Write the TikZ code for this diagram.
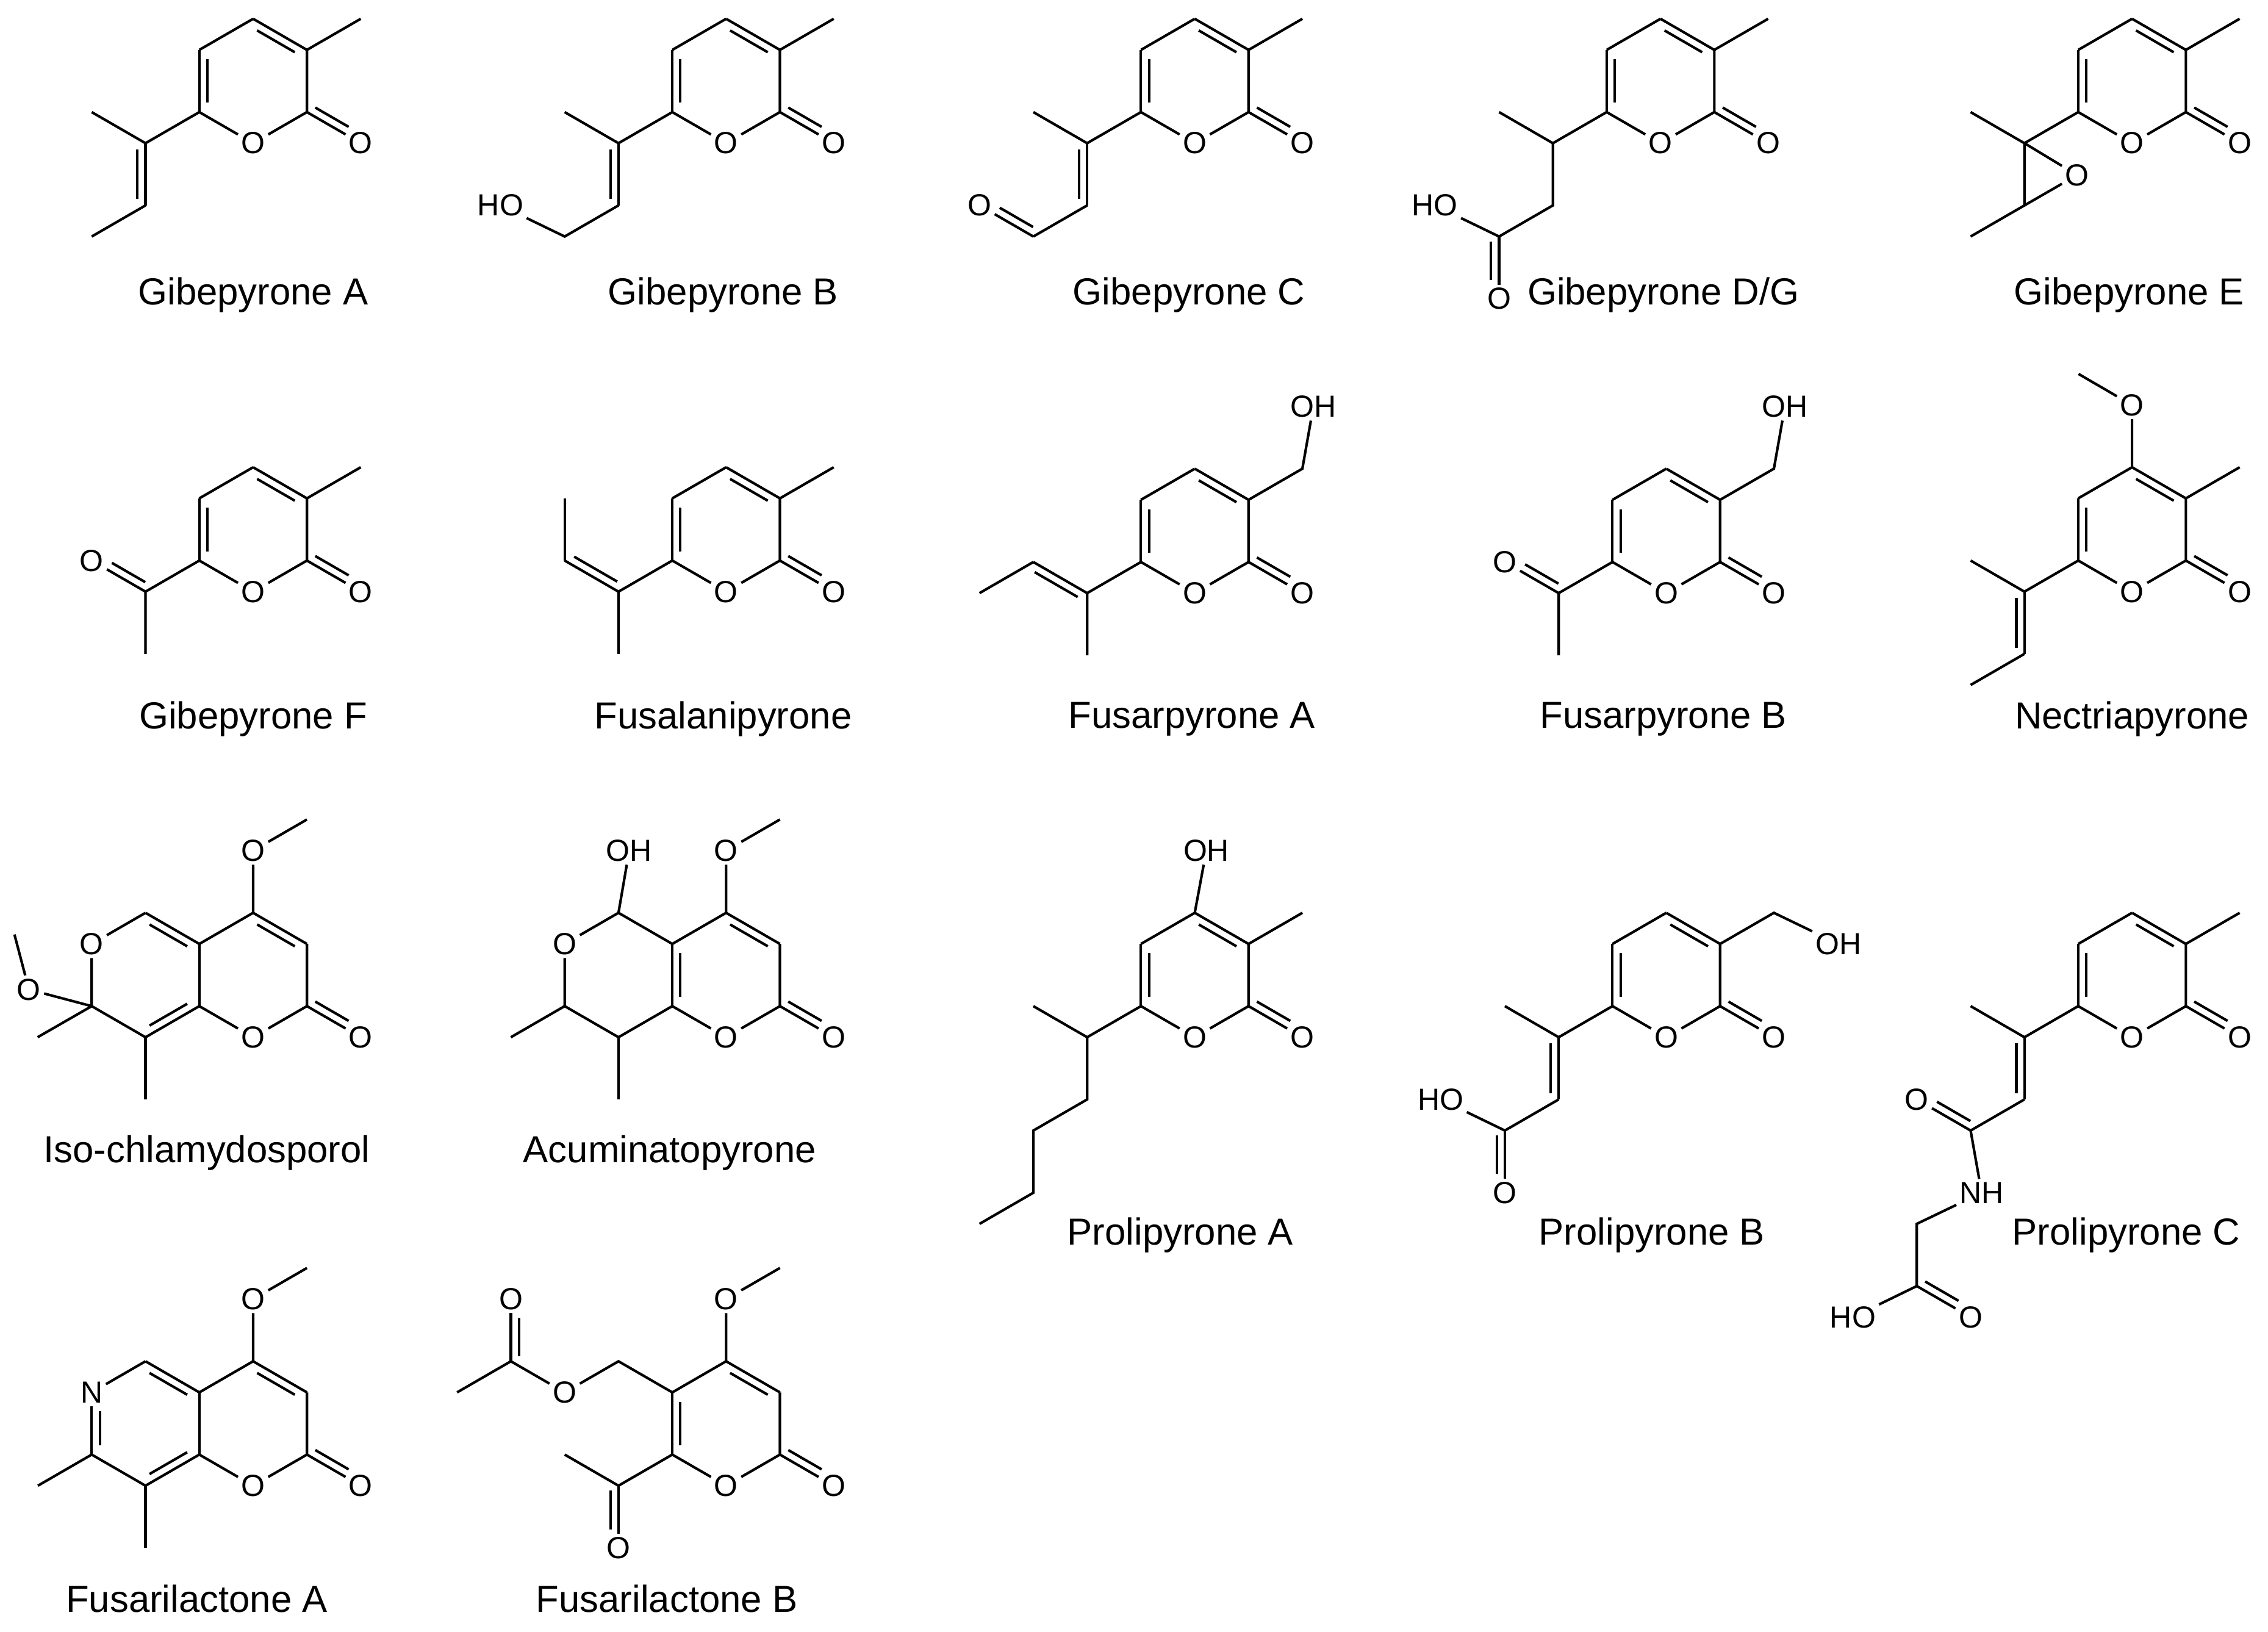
\documentclass[tikz,border=0pt]{standalone}
\usepackage{fontspec}
\setmainfont{Liberation Sans}
\usetikzlibrary{calc}
\def\dbo{0.14cm}
\newcommand\db[5]{\draw (#1)--(#2); \draw ($($(#1)!#4!(#2)$)!\dbo!#3:(#2)$) -- ($($(#2)!#5!(#1)$)!\dbo!#3:(#2)$);}
% pyrone ring: #1 prefix, #2 cx, #3 cy
\newcommand\ring[3]{%
\coordinate (#12) at (#2+37.2,#3+21.5);
\coordinate (#13) at (#2+37.2,#3-21.5);
\coordinate (#14) at (#2,#3-43);
\coordinate (#15) at (#2-37.2,#3-21.5);
\coordinate (#16) at (#2-37.2,#3+21.5);
\node[atom] (#11) at (#2,#3+43) {O};
\node[atom] (#1O) at (#2+74.4,#3+43) {O};
\draw (#16)--(#11)--(#12)--(#13); \db{#13}{#14}{90}{.15}{.15}; \draw (#14)--(#15);
\db{#12}{#1O}{90}{.08}{.3}}
\begin{document}
\begin{tikzpicture}[x=0.025cm,y=-0.025cm,line width=1.25pt,
  atom/.style={inner sep=1pt,font=\fontsize{15}{17}\selectfont},
  cname/.style={font=\fontsize{18.5}{21}\selectfont}]
\useasboundingbox (0,0) rectangle (1568,1128);
% ---- Gibepyrone A
\ring{A}{175}{56}
\db{A5}{A6}{90}{.15}{.15}
\coordinate (Aa) at (100.6,99); \coordinate (Ab) at (63.4,77.5);
\coordinate (Ac) at (100.6,142); \coordinate (Ad) at (63.4,163.5);
\draw (A6)--(Aa)--(Ab); \db{Aa}{Ac}{-90}{.1}{.1}; \draw (Ac)--(Ad);
\draw (A3)--(249.4,13) coordinate (Am);
\node[cname] (nA) at (175,204) {Gibepyrone A};
% ---- Gibepyrone B
\ring{B}{502}{56}
\db{B5}{B6}{90}{.15}{.15}
\coordinate (Ba) at (427.6,99); \coordinate (Bb) at (390.4,77.5);
\coordinate (Bc) at (427.6,142); \coordinate (Bd) at (390.4,163.5);
\node[atom] (Bo) at (346,142) {HO};
\draw (B6)--(Ba)--(Bb); \db{Ba}{Bc}{-90}{.1}{.1}; \draw (Bc)--(Bd)--(Bo);
\draw (B3)--(576.4,13) coordinate (Bm);
\node[cname] (nB) at (500,204) {Gibepyrone B};
% ---- Gibepyrone C
\ring{C}{826}{56}
\db{C5}{C6}{90}{.15}{.15}
\coordinate (Ca) at (751.6,99); \coordinate (Cb) at (714.4,77.5);
\coordinate (Cc) at (751.6,142); \coordinate (Cd) at (714.4,163.5);
\node[atom] (Co) at (677.2,142) {O};
\draw (C6)--(Ca)--(Cb); \db{Ca}{Cc}{-90}{.1}{.1}; \draw (Cc)--(Cd); \db{Cd}{Co}{-90}{.08}{.3}
\draw (C3)--(900.4,13) coordinate (Cm);
\node[cname] (nC) at (822,204) {Gibepyrone C};
% ---- Gibepyrone D/G
\ring{D}{1148}{56}
\db{D5}{D6}{90}{.15}{.15}
\coordinate (Da) at (1073.6,99); \coordinate (Db) at (1036.4,77.5);
\coordinate (Dc) at (1073.6,142); \coordinate (Dd) at (1036.4,163.5);
\node[atom] (Do) at (992,142) {HO};
\node[atom] (De) at (1036.4,206.5) {O};
\draw (D6)--(Da)--(Db); \draw (Da)--(Dc)--(Dd)--(Do); \db{Dd}{De}{-90}{.08}{.3}
\draw (D3)--(1222.4,13) coordinate (Dm);
\node[cname] (nD) at (1150,204) {Gibepyrone D/G};
% ---- Gibepyrone E
\ring{E}{1474}{56}
\db{E5}{E6}{90}{.15}{.15}
\coordinate (Ea) at (1399.6,99); \coordinate (Eb) at (1362.4,77.5);
\coordinate (Ec) at (1399.6,142); \coordinate (Ed) at (1362.4,163.5);
\node[atom] (Eo) at (1436,121) {O};
\draw (E6)--(Ea)--(Eb); \draw (Ea)--(Ec)--(Ed); \draw (Ea)--(Eo)--(Ec);
\draw (E3)--(1548.4,13) coordinate (Em);
\node[cname] (nE) at (1472,204) {Gibepyrone E};
% ---- Gibepyrone F
\ring{F}{175}{366}
\db{F5}{F6}{90}{.15}{.15}
\coordinate (Fa) at (100.6,409); \coordinate (Fb) at (100.6,452);
\node[atom] (Fo) at (63.4,387.5) {O};
\draw (F6)--(Fa)--(Fb); \db{Fa}{Fo}{-90}{.08}{.3}
\draw (F3)--(249.4,323) coordinate (Fm);
\node[cname] (nF) at (175,497) {Gibepyrone F};
% ---- Fusalanipyrone
\ring{G}{502}{366}
\db{G5}{G6}{90}{.15}{.15}
\coordinate (Ga) at (427.6,409); \coordinate (Gb) at (427.6,452);
\coordinate (Gc) at (390.4,387.5); \coordinate (Gd) at (390.4,344.5);
\draw (G6)--(Ga)--(Gb); \db{Ga}{Gc}{-90}{.1}{.1}; \draw (Gc)--(Gd);
\draw (G3)--(576.4,323) coordinate (Gm);
\node[cname] (nG) at (500,497) {Fusalanipyrone};
% ---- Fusarpyrone A
\ring{H}{826}{367}
\db{H5}{H6}{90}{.15}{.15}
\coordinate (Ha) at (751.6,410); \coordinate (Hb) at (751.6,453);
\coordinate (Hc) at (714.4,388.5); \coordinate (Hd) at (677.2,410);
\draw (H6)--(Ha)--(Hb); \db{Ha}{Hc}{90}{.1}{.1}; \draw (Hc)--(Hd);
\coordinate (Hx) at (900.4,324); \node[atom] (Ho) at (908,281) {OH};
\draw (H3)--(Hx)--(Ho);
\node[cname] (nH) at (824,497) {Fusarpyrone A};
% ---- Fusarpyrone B
\ring{I}{1152}{367}
\db{I5}{I6}{90}{.15}{.15}
\coordinate (Ia) at (1077.6,410); \coordinate (Ib) at (1077.6,453);
\node[atom] (Io) at (1040.4,388.5) {O};
\draw (I6)--(Ia)--(Ib); \db{Ia}{Io}{-90}{.08}{.3}
\coordinate (Ix) at (1226.4,324); \node[atom] (Ih) at (1234,281) {OH};
\draw (I3)--(Ix)--(Ih);
\node[cname] (nI) at (1150,497) {Fusarpyrone B};
% ---- Nectriapyrone
\ring{J}{1474}{366}
\db{J5}{J6}{90}{.15}{.15}
\coordinate (Ja) at (1399.6,409); \coordinate (Jb) at (1362.4,387.5);
\coordinate (Jc) at (1399.6,452); \coordinate (Jd) at (1362.4,473.5);
\draw (J6)--(Ja)--(Jb); \db{Ja}{Jc}{-90}{.1}{.1}; \draw (Jc)--(Jd);
\node[atom] (Jo) at (1474,280) {O}; \coordinate (Jm2) at (1437,258.5);
\draw (J4)--(Jo)--(Jm2);
\draw (J3)--(1548.4,323) coordinate (Jm);
\node[cname] (nJ) at (1474,497) {Nectriapyrone};
% ---- Iso-chlamydosporol
\ring{K}{175}{674}
\draw (K5)--(K6);
\node[atom] (Ko) at (175,588) {O}; \coordinate (Km2) at (212.2,566.5);
\draw (K4)--(Ko)--(Km2);
\coordinate (K7) at (100.6,631); \node[atom] (K8) at (63.4,652.5) {O};
\coordinate (K9) at (63.4,695.5); \coordinate (K10) at (100.6,717);
\db{K5}{K7}{90}{.15}{.15}; \draw (K7)--(K8)--(K9)--(K10); \db{K10}{K6}{90}{.15}{.15}
\draw (K10)--(100.6,760) coordinate (Km3);
\node[atom] (Kq) at (20,684) {O}; \coordinate (Km4) at (10,646); \coordinate (Km5) at (26,717);
\draw (K9)--(Kq)--(Km4); \draw (K9)--(Km5);
\node[cname] (nK) at (143,797) {Iso-chlamydosporol};
% ---- Acuminatopyrone
\ring{L}{502}{674}
\db{L5}{L6}{90}{.15}{.15}
\node[atom] (Lo) at (502,588) {O}; \coordinate (Lm2) at (539.2,566.5);
\draw (L4)--(Lo)--(Lm2);
\coordinate (L7) at (427.6,631); \node[atom] (L8) at (390.4,652.5) {O};
\coordinate (L9) at (390.4,695.5); \coordinate (L10) at (427.6,717);
\draw (L5)--(L7)--(L8)--(L9)--(L10)--(L6);
\node[atom] (Lh) at (435,588) {OH}; \draw (L7)--(Lh);
\draw (L9)--(353.2,717) coordinate (Lm3); \draw (L10)--(427.6,760) coordinate (Lm4);
\node[cname] (nL) at (463,797) {Acuminatopyrone};
% ---- Prolipyrone A
\ring{M}{826}{674}
\db{M5}{M6}{90}{.15}{.15}
\node[atom] (Mh) at (834,588) {OH}; \draw (M4)--(Mh);
\draw (M3)--(900.4,631) coordinate (Mm);
\coordinate (Ma) at (751.6,717); \coordinate (Mb) at (714.4,695.5);
\coordinate (Mc) at (751.6,760); \coordinate (Md) at (714.4,781.5);
\coordinate (Me) at (714.4,824.5); \coordinate (Mf) at (677.2,846);
\draw (M6)--(Ma)--(Mb); \draw (Ma)--(Mc)--(Md)--(Me)--(Mf);
\node[cname] (nM) at (816,854) {Prolipyrone A};
% ---- Prolipyrone B
\ring{N}{1152}{674}
\db{N5}{N6}{90}{.15}{.15}
\coordinate (Nx) at (1226.4,631); \node[atom] (Nh) at (1271,652.5) {OH};
\draw (N3)--(Nx)--(Nh);
\coordinate (Na) at (1077.6,717); \coordinate (Nb) at (1040.4,695.5);
\coordinate (Nc) at (1077.6,760); \coordinate (Nd) at (1040.4,781.5);
\node[atom] (No) at (996,760) {HO}; \node[atom] (Ne) at (1040.4,824.5) {O};
\draw (N6)--(Na)--(Nb); \db{Na}{Nc}{-90}{.1}{.1}; \draw (Nc)--(Nd)--(No); \db{Nd}{Ne}{-90}{.08}{.3}
\node[cname] (nN) at (1142,854) {Prolipyrone B};
% ---- Prolipyrone C
\ring{P}{1474}{674}
\db{P5}{P6}{90}{.15}{.15}
\draw (P3)--(1548.4,631) coordinate (Pm);
\coordinate (Pa) at (1399.6,717); \coordinate (Pb) at (1362.4,695.5);
\coordinate (Pc) at (1399.6,760); \coordinate (Pd) at (1362.4,781.5);
\node[atom] (Po) at (1325.2,760) {O};
\node[atom] (Pn) at (1370,824.5) {NH};
\coordinate (Pe) at (1325.2,846); \coordinate (Pf) at (1325.2,889);
\node[atom] (Ph) at (1281,910.5) {HO}; \node[atom] (Pq) at (1362.4,910.5) {O};
\draw (P6)--(Pa)--(Pb); \db{Pa}{Pc}{-90}{.1}{.1}; \draw (Pc)--(Pd); \db{Pd}{Po}{-90}{.08}{.3}
\draw (Pd)--(Pn)--(Pe)--(Pf)--(Ph); \db{Pf}{Pq}{90}{.08}{.3}
\node[cname] (nP) at (1470,854) {Prolipyrone C};
% ---- Fusarilactone A
\ring{Q}{175}{984}
\draw (Q5)--(Q6);
\node[atom] (Qo) at (175,898) {O}; \coordinate (Qm2) at (212.2,876.5);
\draw (Q4)--(Qo)--(Qm2);
\coordinate (Q7) at (100.6,941); \node[atom] (Q8) at (63.4,962.5) {N};
\coordinate (Q9) at (63.4,1005.5); \coordinate (Q10) at (100.6,1027);
\db{Q5}{Q7}{90}{.15}{.15}; \draw (Q7)--(Q8); \db{Q8}{Q9}{90}{.3}{.15}; \draw (Q9)--(Q10); \db{Q10}{Q6}{90}{.15}{.15}
\draw (Q10)--(100.6,1070) coordinate (Qm3); \draw (Q9)--(26.2,1027) coordinate (Qm4);
\node[cname] (nQ) at (136,1105) {Fusarilactone A};
% ---- Fusarilactone B
\ring{R}{502}{984}
\db{R5}{R6}{90}{.15}{.15}
\node[atom] (Ro) at (502,898) {O}; \coordinate (Rm2) at (539.2,876.5);
\draw (R4)--(Ro)--(Rm2);
\coordinate (Ra) at (427.6,941); \node[atom] (Rb) at (390.4,962.5) {O};
\coordinate (Rc) at (353.2,941); \node[atom] (Rd) at (353.2,898) {O};
\coordinate (Re) at (316,962.5);
\draw (R5)--(Ra)--(Rb)--(Rc)--(Re); \db{Rc}{Rd}{-90}{.08}{.3}
\coordinate (Rf) at (427.6,1027); \node[atom] (Rg) at (427.6,1070) {O};
\coordinate (Rh) at (390.4,1005.5);
\draw (R6)--(Rf)--(Rh); \db{Rf}{Rg}{-90}{.08}{.3}
\node[cname] (nR) at (461,1105) {Fusarilactone B};
\end{tikzpicture}
\end{document}
